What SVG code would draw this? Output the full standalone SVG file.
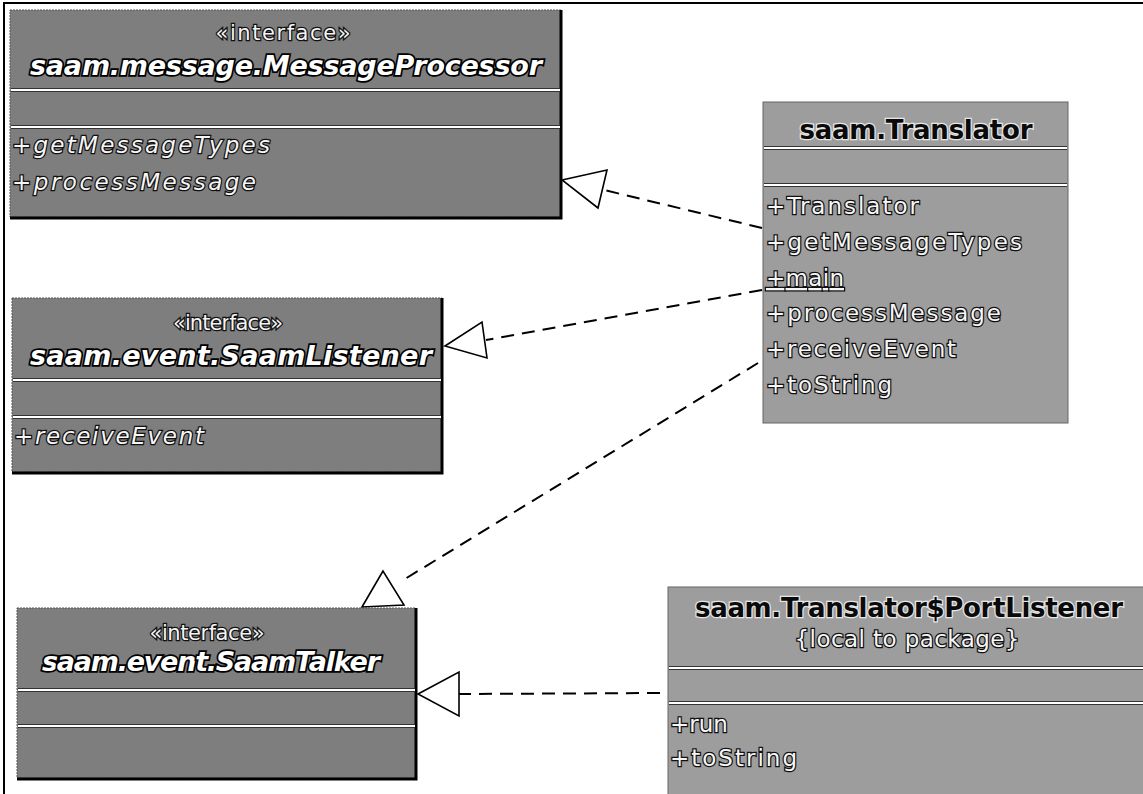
<svg xmlns="http://www.w3.org/2000/svg" width="1143" height="794" viewBox="0 0 1143 794">
<style>
  .bg { fill: #ffffff; }
  .iface { fill: #7e7e7e; stroke: #555; stroke-width: 1; stroke-dasharray: 2 1; }
  .cls { fill: #9d9d9d; stroke: #666; stroke-width: 1; }
  .shadow { fill: none; stroke: #000; stroke-width: 3; }
  .divd { stroke: #333; stroke-width: 4; }
  .divl { stroke: #ffffff; stroke-width: 2; }
  text { font-family: "DejaVu Sans", "Liberation Sans", sans-serif; paint-order: stroke; }
  .st { font-size: 21px; fill: #f4f4f4; stroke: #111; stroke-width: 2.5; }
  .iname { font-size: 27px; font-weight: bold; font-style: italic; fill: #ffffff; stroke: #000; stroke-width: 3.5; }
  .cname { font-size: 26px; font-weight: bold; fill: #0a0a0a; stroke: #e6e6e6; stroke-width: 2.5; }
  .op { font-size: 23px; fill: #f6f6f6; stroke: #111; stroke-width: 2.5; }
  .opi { font-size: 23px; font-style: italic; fill: #f6f6f6; stroke: #111; stroke-width: 2.5; }
  .frame { stroke: #000; stroke-width: 2; fill: none; }
  .dash { stroke: #000; stroke-width: 2; fill: none; stroke-dasharray: 13 8; }
  .tri { fill: #ffffff; stroke: #000; stroke-width: 1.6; stroke-linejoin: miter; }
</style>
<rect class="bg" x="0" y="0" width="1143" height="794"/>
<path class="frame" d="M4 794 V3 H1143"/>

<g id="node-messageprocessor">
  <rect class="iface" x="10" y="10" width="551" height="207"/>
  <path class="shadow" d="M561 10 V218 H10"/>
  <line class="divd" x1="11" y1="90" x2="560" y2="90"/>
  <line class="divl" x1="11" y1="90" x2="560" y2="90"/>
  <line class="divd" x1="11" y1="127" x2="560" y2="127"/>
  <line class="divl" x1="11" y1="127" x2="560" y2="127"/>
  <text class="st" x="283" y="40" text-anchor="middle" textLength="135" lengthAdjust="spacing">«interface»</text>
  <text class="iname" x="286" y="75" text-anchor="middle" textLength="512" lengthAdjust="spacing">saam.message.MessageProcessor</text>
  <text class="opi" x="12" y="153" textLength="258" lengthAdjust="spacing">+getMessageTypes</text>
  <text class="opi" x="12" y="190" textLength="244" lengthAdjust="spacing">+processMessage</text>
</g>

<g id="node-saamlistener">
  <rect class="iface" x="12" y="298" width="430" height="174"/>
  <path class="shadow" d="M442 298 V473 H12"/>
  <line class="divd" x1="13" y1="380" x2="441" y2="380"/>
  <line class="divl" x1="13" y1="380" x2="441" y2="380"/>
  <line class="divd" x1="13" y1="417" x2="441" y2="417"/>
  <line class="divl" x1="13" y1="417" x2="441" y2="417"/>
  <text class="st" x="228" y="330" text-anchor="middle" textLength="110" lengthAdjust="spacing">«interface»</text>
  <text class="iname" x="231" y="365" text-anchor="middle" textLength="402" lengthAdjust="spacing">saam.event.SaamListener</text>
  <text class="opi" x="14" y="444" textLength="190" lengthAdjust="spacing">+receiveEvent</text>
</g>

<g id="node-saamtalker">
  <rect class="iface" x="17" y="608" width="399" height="170"/>
  <path class="shadow" d="M416 608 V779 H17"/>
  <line class="divd" x1="18" y1="690" x2="415" y2="690"/>
  <line class="divl" x1="18" y1="690" x2="415" y2="690"/>
  <line class="divd" x1="18" y1="726" x2="415" y2="726"/>
  <line class="divl" x1="18" y1="726" x2="415" y2="726"/>
  <text class="st" x="207" y="640" text-anchor="middle" textLength="115" lengthAdjust="spacing">«interface»</text>
  <text class="iname" x="211" y="671" text-anchor="middle" textLength="338" lengthAdjust="spacing">saam.event.SaamTalker</text>
</g>

<g id="node-translator">
  <rect class="cls" x="763" y="102" width="305" height="321"/>
  <line class="divd" x1="764" y1="148" x2="1067" y2="148"/>
  <line class="divl" x1="764" y1="148" x2="1067" y2="148"/>
  <line class="divd" x1="764" y1="185" x2="1067" y2="185"/>
  <line class="divl" x1="764" y1="185" x2="1067" y2="185"/>
  <text class="cname" x="916" y="139" text-anchor="middle" textLength="233" lengthAdjust="spacing">saam.Translator</text>
  <text class="op" x="766" y="214" textLength="153" lengthAdjust="spacing">+Translator</text>
  <text class="op" x="766" y="250" textLength="256" lengthAdjust="spacing">+getMessageTypes</text>
  <text class="op" x="766" y="286" textLength="78" lengthAdjust="spacing" text-decoration="underline">+main</text>
  <text class="op" x="766" y="321" textLength="235" lengthAdjust="spacing">+processMessage</text>
  <text class="op" x="766" y="357" textLength="190" lengthAdjust="spacing">+receiveEvent</text>
  <text class="op" x="766" y="393" textLength="126" lengthAdjust="spacing">+toString</text>
</g>

<g id="node-portlistener">
  <rect class="cls" x="668" y="587" width="480" height="212"/>
  <line class="divd" x1="669" y1="668" x2="1143" y2="668"/>
  <line class="divl" x1="669" y1="668" x2="1143" y2="668"/>
  <line class="divd" x1="669" y1="703" x2="1143" y2="703"/>
  <line class="divl" x1="669" y1="703" x2="1143" y2="703"/>
  <text class="cname" x="909" y="617" text-anchor="middle" textLength="428" lengthAdjust="spacing">saam.Translator$PortListener</text>
  <text class="op" x="907" y="647" text-anchor="middle" textLength="225" lengthAdjust="spacing">{local to package}</text>
  <text class="op" x="670" y="732">+run</text>
  <text class="op" x="670" y="766" textLength="127" lengthAdjust="spacing">+toString</text>
</g>

<g id="connectors">
  <line class="dash" x1="762" y1="228" x2="604" y2="190"/>
  <polygon class="tri" points="562,180 607,170 598,208"/>
  <line class="dash" x1="762" y1="290" x2="486" y2="340"/>
  <polygon class="tri" points="445,346 482,322 487,358"/>
  <line class="dash" x1="758" y1="363" x2="400" y2="582"/>
  <polygon class="tri" points="383,571 362,607 404,605"/>
  <line class="dash" x1="660" y1="693" x2="459" y2="694"/>
  <polygon class="tri" points="418,694 459,672 459,716"/>
</g>
</svg>
